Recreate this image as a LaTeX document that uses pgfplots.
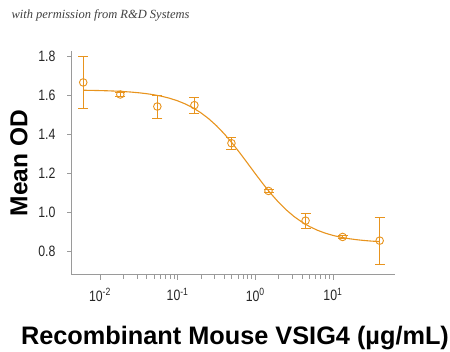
\documentclass[border=0pt]{standalone}
\usepackage{fontspec}
\setmainfont{Liberation Sans}
\newfontfamily\narrow[FakeStretch=0.82]{Liberation Sans}
\newfontfamily\titlefont{Liberation Serif}
\usepackage{pgfplots}
\pgfplotsset{compat=1.18}
\definecolor{org}{HTML}{E8941E}
\definecolor{axgray}{HTML}{9A9A9A}
\begin{document}
\begin{tikzpicture}
\useasboundingbox (0pt,0pt) rectangle (450pt,352pt);
\begin{axis}[at={(72pt,77pt)}, anchor=south west, scale only axis,
  width=323pt, height=224pt,
  xmode=log, xmin=0.00437, xmax=63, ymin=0.676, ymax=1.83,
  axis x line*=bottom, axis y line*=left,
  x axis line style={-, draw=axgray, line width=1pt},
  y axis line style={-, draw=axgray, line width=1pt},
  tick align=outside,
  every major tick/.append style={draw=axgray, line width=0.8pt},
  every minor tick/.append style={draw=axgray, line width=0.8pt},
  major tick length=5pt, minor tick length=4pt,
  xtick={0.01,0.1,1,10},
  xticklabels={10\textsuperscript{-2},10\textsuperscript{-1},10\textsuperscript{0},10\textsuperscript{1}},
  ytick={0.8,1.0,1.2,1.4,1.6,1.8},
  yticklabels={0.8,1.0,1.2,1.4,1.6,1.8},
  ytick pos=left, xtick pos=bottom,
  x tick label style={font=\narrow\fontsize{15}{16}\selectfont, text=black!85, yshift=-5pt},
  y tick label style={font=\narrow\fontsize{15}{16}\selectfont, text=black!85, xshift=-8pt},
  clip=false,
]
\addplot[org, line width=1.1pt] coordinates {
(0.00610,1.6280) (0.00631,1.6277) (0.00794,1.6270) (0.01000,1.6261) (0.01259,1.6249)
(0.01585,1.6233) (0.01995,1.6212) (0.02512,1.6184) (0.03162,1.6148) (0.03981,1.6102)
(0.05012,1.6041) (0.06310,1.5963) (0.07943,1.5862) (0.1000,1.5733) (0.1259,1.5571)
(0.1585,1.5367) (0.1995,1.5117) (0.2512,1.4812) (0.3162,1.4453) (0.3981,1.4036)
(0.5012,1.3567) (0.6310,1.3057) (0.7943,1.2523) (1.000,1.1982) (1.259,1.1454)
(1.585,1.0958) (1.995,1.0508) (2.512,1.0111) (3.162,0.9771) (3.981,0.9487)
(5.012,0.9254) (6.310,0.9066) (7.943,0.8917) (10.00,0.8799) (12.59,0.8707)
(15.85,0.8635) (19.95,0.8580) (25.12,0.8538) (31.62,0.8505) (40.00,0.8480)
};
\addplot[color=org, only marks, mark=o, mark size=3.8pt, mark options={color=org, line width=0.9pt, fill=none},
  error bars/.cd, y dir=both, y explicit,
  error bar style={color=org, line width=1pt},
  error mark options={rotate=90, mark size=5pt, line width=1pt, color=org}]
coordinates {
(0.00610,1.668) += (0,0.132) -= (0,0.133)
(0.01829,1.606) += (0,0.010) -= (0,0.010)
(0.05487,1.544) += (0,0.056) -= (0,0.064)
(0.1646,1.551) += (0,0.041) -= (0,0.045)
(0.4938,1.355) += (0,0.031) -= (0,0.031)
(1.481,1.109) += (0,0.008) -= (0,0.008)
(4.444,0.956) += (0,0.035) -= (0,0.039)
(13.33,0.872) += (0,0.008) -= (0,0.008)
(40.0,0.853) += (0,0.119) -= (0,0.122)
};
\end{axis}
\node[anchor=base west, font=\titlefont\itshape\fontsize{12.5}{13}\selectfont, text=black!75] at (8pt,333pt) {with permission from R\&D Systems};
\node[anchor=base, font=\bfseries\fontsize{25.3}{27}\selectfont] at (235pt,7pt) {Recombinant Mouse VSIG4 (µg/mL)};
\node[rotate=90, font=\bfseries\fontsize{24.5}{26}\selectfont] at (19pt,189pt) {Mean OD};
\end{tikzpicture}
\end{document}
